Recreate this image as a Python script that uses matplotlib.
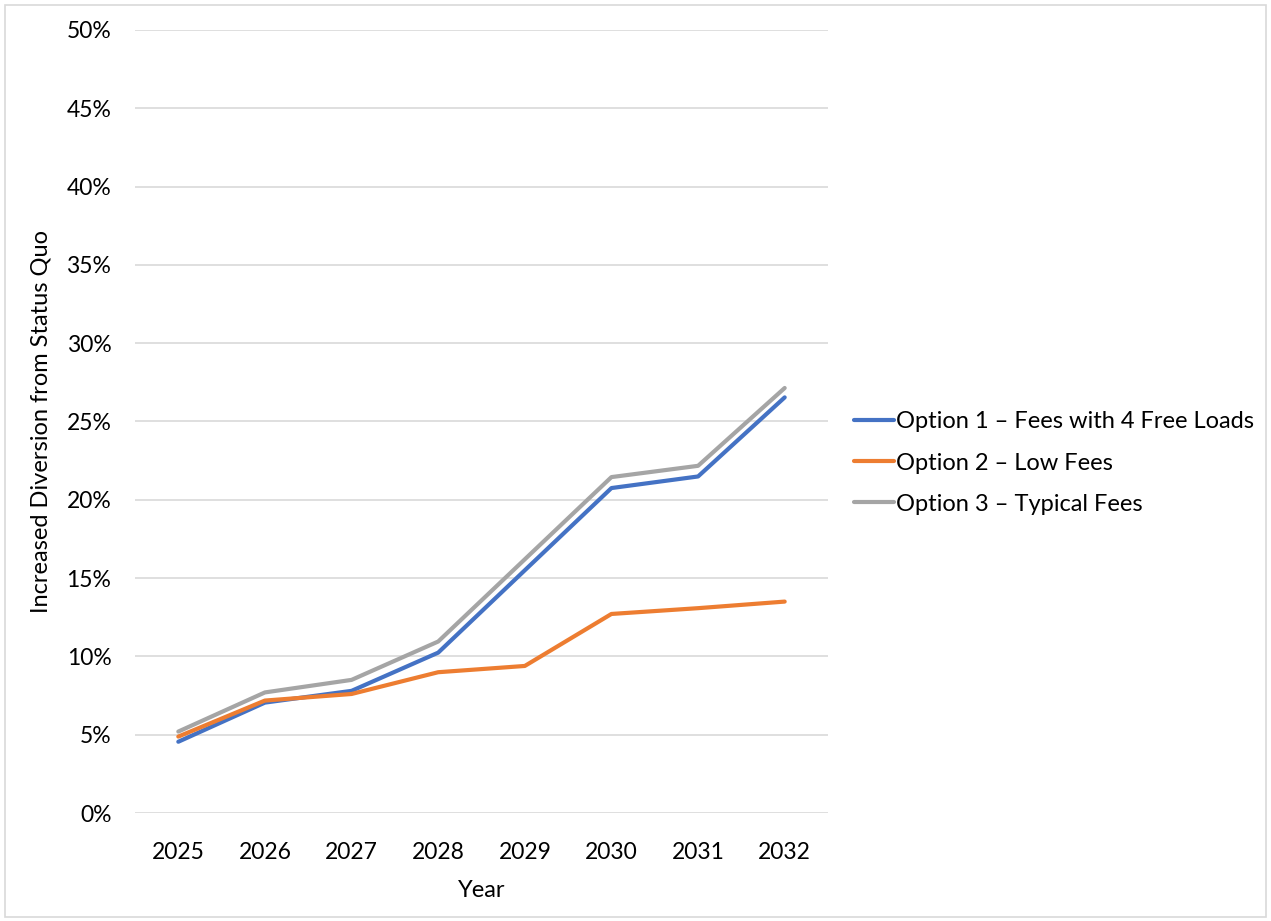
import matplotlib
matplotlib.use("Agg")
import matplotlib.pyplot as plt
from matplotlib.patches import Rectangle
from matplotlib.ticker import FuncFormatter

years = ["2025", "2026", "2027", "2028", "2029", "2030", "2031", "2032"]
option1 = [4.55, 7.05, 7.8, 10.24, 15.5, 20.75, 21.49, 26.54]
option2 = [4.88, 7.18, 7.6, 8.99, 9.39, 12.71, 13.08, 13.5]
option3 = [5.2, 7.7, 8.5, 10.95, 16.2, 21.45, 22.17, 27.14]
labels = ["Option 1 \u2013 Fees with 4 Free Loads", "Option 2 \u2013 Low Fees", "Option 3 \u2013 Typical Fees"]
colors = ["#4472C4", "#ED7D31", "#A5A5A5"]

plt.rcParams['font.family'] = ['Lato', 'DejaVu Sans']

W, H = 1271, 921
fig = plt.figure(figsize=(W / 100, H / 100), dpi=100)
ax = fig.add_axes([135 / W, 1 - 813 / H, (828 - 135) / W, (813 - 30) / H])

x = list(range(len(years)))
for vals, lab, c in zip([option1, option2, option3], labels, colors):
    ax.plot(x, vals, color=c, lw=3.0, label=lab, solid_capstyle='round', solid_joinstyle='round')

ax.set_xlim(-0.5, len(years) - 0.5)
ax.set_ylim(0, 50)
ax.set_yticks(range(0, 51, 5))
ax.yaxis.set_major_formatter(FuncFormatter(lambda v, p: f"{int(v)}%"))
ax.set_xticks(x)
ax.set_xticklabels(years)
ax.grid(axis='y', color='#D9D9D9', lw=1.2)
ax.set_axisbelow(True)
for s in ax.spines.values():
    s.set_visible(False)
ax.tick_params(length=0, labelsize=16.5, colors='#000000')
ax.tick_params(axis='y', pad=17)
ax.tick_params(axis='x', pad=21)
ax.set_xlabel("Year", fontsize=17, labelpad=12)
ax.set_ylabel("Increased Diversion from Status Quo", fontsize=17, labelpad=11)

leg = fig.legend(loc='center left', bbox_to_anchor=(854 / W, 1 - 463 / H), frameon=False,
                 fontsize=17, handlelength=1.7, handletextpad=0.1, labelspacing=0.85,
                 borderaxespad=0, borderpad=0)

fig.patches.append(Rectangle((5 / W, 4 / H), (W - 10) / W, (H - 9) / H, transform=fig.transFigure,
                             fill=False, edgecolor='#D9D9D9', lw=1.2))

fig.savefig("out.png", dpi=100)
